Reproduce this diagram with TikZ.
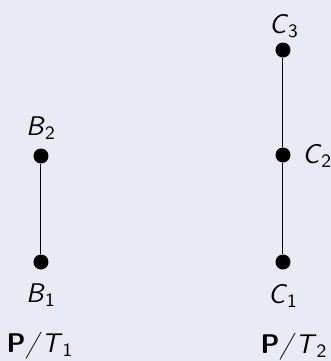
\documentclass[tikz,border=0pt]{standalone}
\usepackage{tikz}
\usetikzlibrary{positioning}
\definecolor{bgcol}{RGB}{234,234,244}

\begin{document}
\begin{tikzpicture}[x=0.5pt,y=-0.5pt,
    dot/.style={circle,fill=black,inner sep=0pt,minimum size=7.5pt},
    lbl/.style={inner sep=0pt,font=\sffamily\fontsize{13.5}{16}\selectfont}]
    %sfondo
    \fill[bgcol] (0,0) rectangle (331,361);
    \useasboundingbox (0,0) rectangle (331,361);
    %prima catena
    \node[dot] (b1) at (41,262) {};
    \node[dot] (b2) at (41,156) {};
    \draw[line width=0.5pt] (b1) -- (b2);
    \node[lbl,anchor=base] (lb2) at (41,135) {\textit{B}\textsubscript{2}};
    \node[lbl,anchor=base] (lb1) at (41,302) {\textit{B}\textsubscript{1}};
    \node[lbl,anchor=base] (t1) at (40,352) {\textbf{P}\textit{/}\textit{T}\textsubscript{1}};
    %seconda catena
    \node[dot] (c1) at (283,262) {};
    \node[dot] (c2) at (283,155) {};
    \node[dot] (c3) at (283,50) {};
    \draw[line width=0.5pt] (c1) -- (c2) -- (c3);
    \node[lbl,anchor=base] (lc3) at (284,33) {\textit{C}\textsubscript{3}};
    \node[lbl,anchor=base west] (lc2) at (302,163) {\textit{C}\textsubscript{2}};
    \node[lbl,anchor=base] (lc1) at (283,303) {\textit{C}\textsubscript{1}};
    \node[lbl,anchor=base] (t2) at (294,353) {\textbf{P}\textit{/}\textit{T}\textsubscript{2}};
\end{tikzpicture}
\end{document}
